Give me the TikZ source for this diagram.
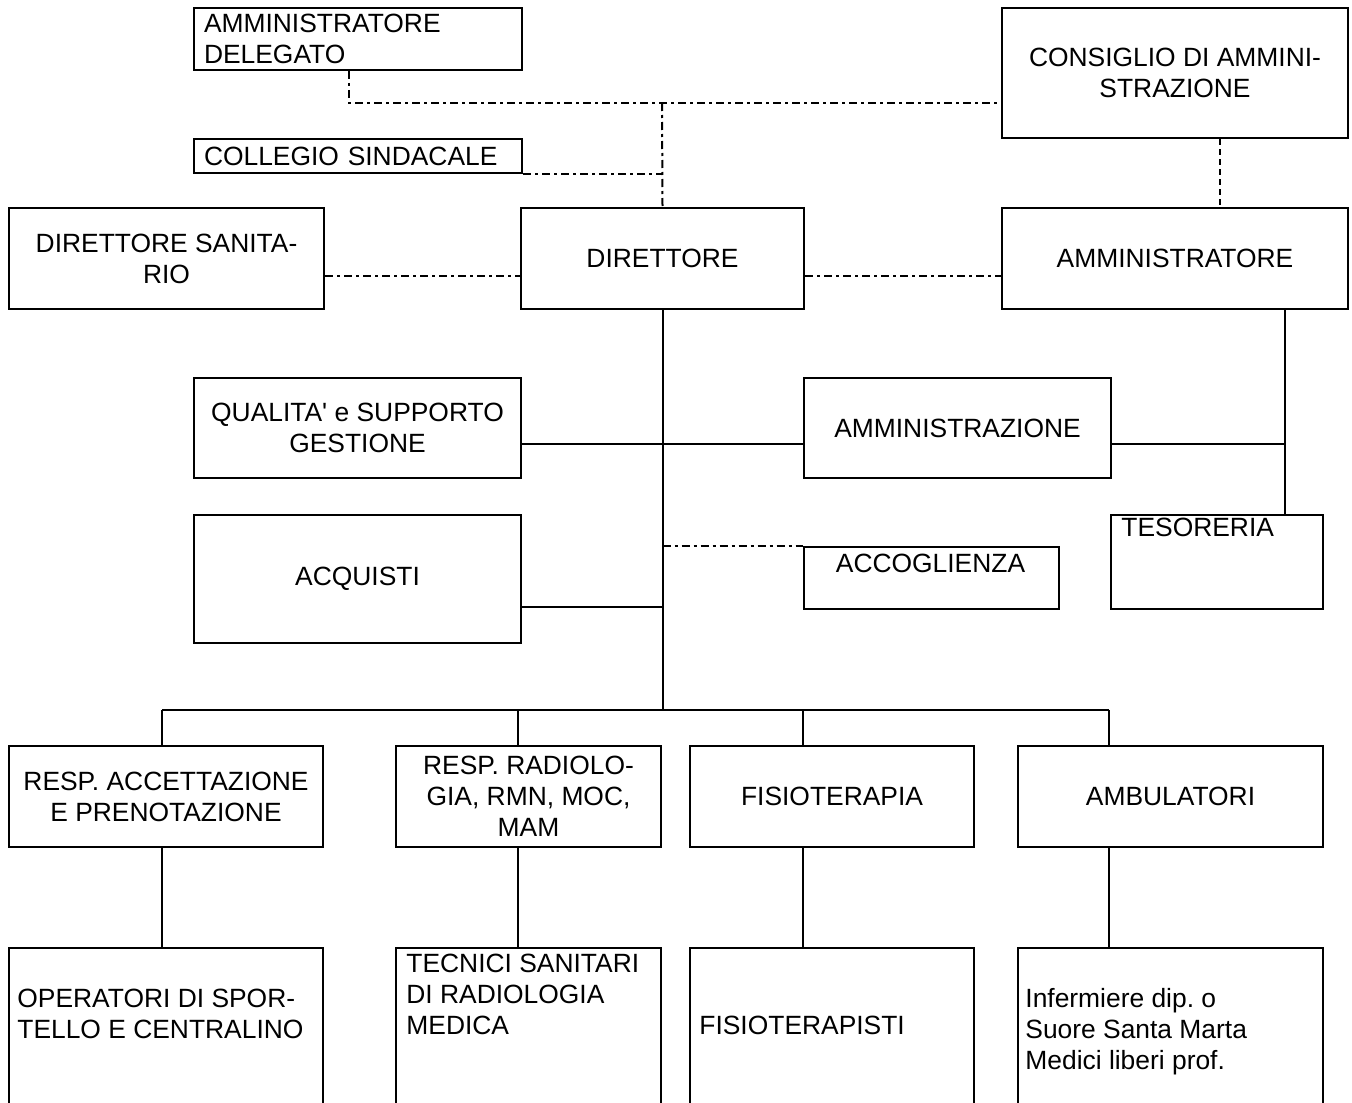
\documentclass[tikz,border=0pt]{standalone}
\usepackage{fontspec}
\setmainfont{Liberation Sans}
\usepackage{xcolor}
\definecolor{cLine}{HTML}{000000}
\usepackage{tikz}
\usetikzlibrary{positioning,calc}
\newcommand{\orgfont}{\fontsize{13.2pt}{15.5pt}\selectfont\frenchspacing}
\tikzset{
  node-box/.style={draw=cLine,line width=1pt,anchor=north west,
    align=center,inner sep=2pt,font=\orgfont},
  node-left/.style={node-box,align=left,inner xsep=5pt,text width=154pt},
  node-text/.style={inner sep=0pt,align=left,font=\orgfont},
  link/.style={draw=cLine,line width=1pt},
  link-dashdot/.style={draw=cLine,line width=1pt,
    dash pattern=on 4pt off 2pt on 1.5pt off 2pt},
  link-dashed/.style={draw=cLine,line width=0.9pt,
    dash pattern=on 3pt off 2pt},
}

\begin{document}
\begin{tikzpicture}[x=0.5pt,y=-0.5pt]
  \useasboundingbox (0,0) rectangle (1352,1102);
  \clip (0,0) rectangle (1352,1102);
  % vertici
  \node[node-left,minimum width=164pt,minimum height=31pt] (ad) at (193,7) {AMMINISTRATORE\\DELEGATO};
  \node[node-left,minimum width=164pt,minimum height=17pt] (cs) at (193,138) {COLLEGIO SINDACALE};
  \node[node-box,minimum width=173pt,minimum height=65pt] (cda) at (1001,7) {CONSIGLIO DI AMMINI-\\STRAZIONE};
  \node[node-box,minimum width=157.5pt,minimum height=50.5pt] (ds) at (8,207) {DIRETTORE SANITA-\\RIO};
  \node[node-box,minimum width=141.5pt,minimum height=50.5pt] (dir) at (520,207) {DIRETTORE};
  \node[node-box,minimum width=173pt,minimum height=50.5pt] (amm) at (1001,207) {AMMINISTRATORE};
  % staff
  \node[node-box,minimum width=163.5pt,minimum height=50pt] (qual) at (193,377) {QUALITA\textquotesingle{} e SUPPORTO\\GESTIONE};
  \node[node-box,minimum width=153.5pt,minimum height=50pt] (ammz) at (803,377) {AMMINISTRAZIONE};
  \node[node-box,minimum width=106pt,minimum height=47pt] (tes) at (1110,514) {};
  \node[node-box,minimum width=127.5pt,minimum height=31pt] (acc) at (803,546) {};
  \node[node-box,minimum width=163.5pt,minimum height=64pt] (acq) at (193,514) {ACQUISTI};
  \node[node-text,anchor=north west] (tes-t) at (1121,518) {TESORERIA};
  \node[node-text,anchor=north] (acc-t) at (930.5,553.5) {ACCOGLIENZA};
  % servizi
  \node[node-box,minimum width=157pt,minimum height=50.5pt] (racc) at (8,745) {RESP. ACCETTAZIONE\\E PRENOTAZIONE};
  \node[node-box,minimum width=132.5pt,minimum height=50.5pt] (rrad) at (395,745) {RESP. RADIOLO-\\GIA, RMN, MOC,\\MAM};
  \node[node-box,minimum width=142pt,minimum height=50.5pt] (fis) at (689,745) {FISIOTERAPIA};
  \node[node-box,minimum width=152.5pt,minimum height=50.5pt] (amb) at (1017,745) {AMBULATORI};
  % operatori
  \node[node-box,minimum width=157pt,minimum height=100pt] (op) at (8,947) {};
  \node[node-box,minimum width=132.5pt,minimum height=100pt] (tec) at (395,947) {};
  \node[node-box,minimum width=142pt,minimum height=100pt] (fst) at (689,947) {};
  \node[node-box,minimum width=152.5pt,minimum height=100pt] (inf) at (1017,947) {};
  \node[node-text,anchor=north west] (op-t) at (17,988.5) {OPERATORI DI SPOR-\\TELLO E CENTRALINO};
  \node[node-text,anchor=north west] (tec-t) at (406,953.5) {TECNICI SANITARI\\DI RADIOLOGIA\\MEDICA};
  \node[node-text,anchor=north west] (fst-t) at (699,1015.5) {FISIOTERAPISTI};
  \node[node-text,anchor=north west] (inf-t) at (1025,987.5) {Infermiere dip. o\\Suore Santa Marta\\Medici liberi prof.};
  % collegamenti funzionali
  \coordinate (top-join) at (662,103);
  \draw[link-dashdot] ([xshift=-4.5pt]ad.south) |- (cda.west |- top-join);
  \draw[link-dashdot] (top-join) -- (dir.north);
  \draw[link-dashdot] (cs.south east) -- (cs.south east -| dir.north);
  \draw[link-dashdot] ([yshift=-8.5pt]ds.east) -- ([yshift=-8.5pt]dir.west);
  \draw[link-dashdot] ([yshift=-8.5pt]dir.east) -- ([yshift=-8.5pt]amm.west);
  \draw[link-dashed] ([xshift=22.5pt]cda.south) -- ([xshift=22.5pt]amm.north);
  % linea gerarchica
  \coordinate (drop1) at (162,710);
  \coordinate (drop2) at (518,710);
  \coordinate (drop3) at (803,710);
  \coordinate (drop4) at (1109,710);
  \coordinate (staff-y) at (0,444);
  \coordinate (acq-y) at (0,607);
  \coordinate (tes-join) at (1285,444);
  \draw[link] (dir.south) -- (dir.south |- drop1);
  \draw[link] (qual.east |- staff-y) -- (ammz.west |- staff-y);
  \draw[link] (ammz.east |- tes-join) -- (tes-join);
  \draw[link] (amm.south -| tes-join) -- (tes.north -| tes-join);
  \draw[link] (acq.east |- acq-y) -- (dir.south |- acq-y);
  \draw[link-dashdot] (dir.south |- acc.north) -- (acc.north west);
  \draw[link] (drop1) -- (drop4);
  \foreach \d/\a/\b in {drop1/racc/op,drop2/rrad/tec,drop3/fis/fst,drop4/amb/inf}{
    \draw[link] (\d) -- (\d |- \a.north);
    \draw[link] (\d |- \a.south) -- (\d |- \b.north);
  }
\end{tikzpicture}
\end{document}
